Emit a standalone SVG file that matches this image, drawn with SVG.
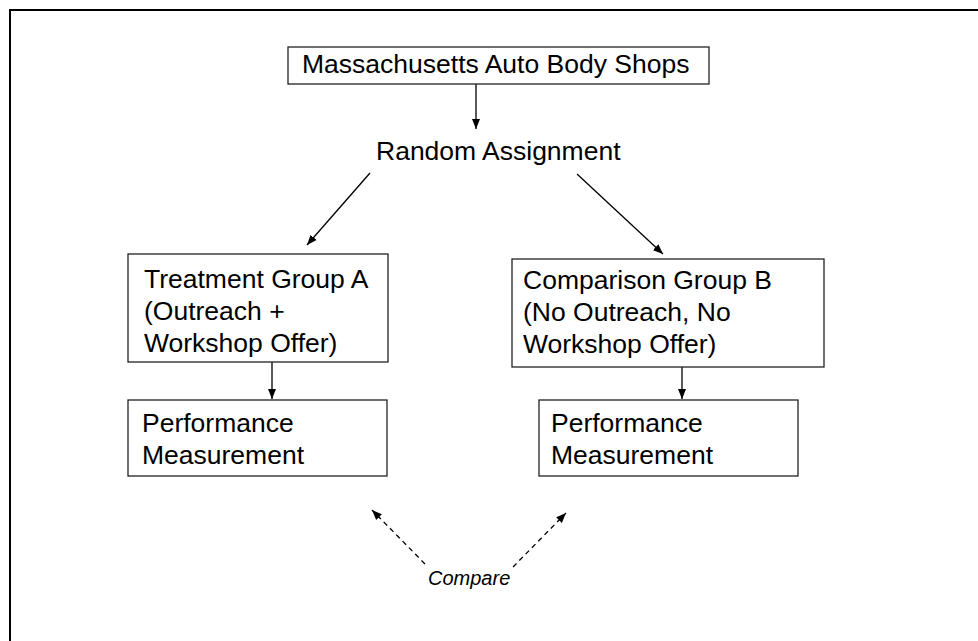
<svg xmlns="http://www.w3.org/2000/svg" width="978" height="641" viewBox="0 0 978 641">
<style>
.box{fill:#fff;stroke:#222;stroke-width:1.3}
.t{font-family:"Liberation Sans",Arial,sans-serif;font-size:26.5px;fill:#000}
.c{font-family:"Liberation Sans",Arial,sans-serif;font-size:20px;font-style:italic;fill:#000}
.ln{stroke:#000;stroke-width:1.3;fill:none}
.dash{stroke:#000;stroke-width:1.3;fill:none;stroke-dasharray:5,4}
</style>
<defs>
<marker id="ah" viewBox="0 0 10 10" refX="10" refY="5" markerWidth="10" markerHeight="10" markerUnits="userSpaceOnUse" orient="auto">
<path d="M0,1 L10,5 L0,9 Z" fill="#000"/>
</marker>
</defs>
<rect x="0" y="0" width="978" height="641" fill="#fff"/>
<path d="M10,650 V10 H990" fill="none" stroke="#000" stroke-width="2"/>
<g id="connectors">
<line class="ln" x1="476" y1="84" x2="476" y2="129" marker-end="url(#ah)"/>
<line class="ln" x1="370" y1="173" x2="307" y2="245" marker-end="url(#ah)"/>
<line class="ln" x1="577" y1="174" x2="663" y2="254" marker-end="url(#ah)"/>
<line class="ln" x1="272" y1="362" x2="272" y2="399" marker-end="url(#ah)"/>
<line class="ln" x1="682" y1="367" x2="682" y2="399" marker-end="url(#ah)"/>
<line class="dash" x1="425" y1="564" x2="372" y2="510" marker-end="url(#ah)"/>
<line class="dash" x1="513" y1="567" x2="566" y2="513" marker-end="url(#ah)"/>
</g>
<g id="shops">
<rect class="box" x="288" y="47" width="421" height="37"/>
<text class="t" x="302" y="73">Massachusetts Auto Body Shops</text>
</g>
<g id="random">
<text class="t" x="376" y="160">Random Assignment</text>
</g>
<g id="groupA">
<rect class="box" x="128" y="254" width="260" height="108"/>
<text class="t" x="144" y="288">Treatment Group A</text>
<text class="t" x="144" y="320">(Outreach +</text>
<text class="t" x="144" y="352">Workshop Offer)</text>
</g>
<g id="groupB">
<rect class="box" x="512" y="259" width="312" height="108"/>
<text class="t" x="523" y="289">Comparison Group B</text>
<text class="t" x="523" y="321">(No Outreach, No</text>
<text class="t" x="523" y="353">Workshop Offer)</text>
</g>
<g id="perfA">
<rect class="box" x="128" y="400" width="259" height="76"/>
<text class="t" x="142" y="432">Performance</text>
<text class="t" x="142" y="464">Measurement</text>
</g>
<g id="perfB">
<rect class="box" x="539" y="400" width="259" height="76"/>
<text class="t" x="551" y="432">Performance</text>
<text class="t" x="551" y="464">Measurement</text>
</g>
<g id="compare">
<text class="c" x="428" y="585">Compare</text>
</g>
</svg>
